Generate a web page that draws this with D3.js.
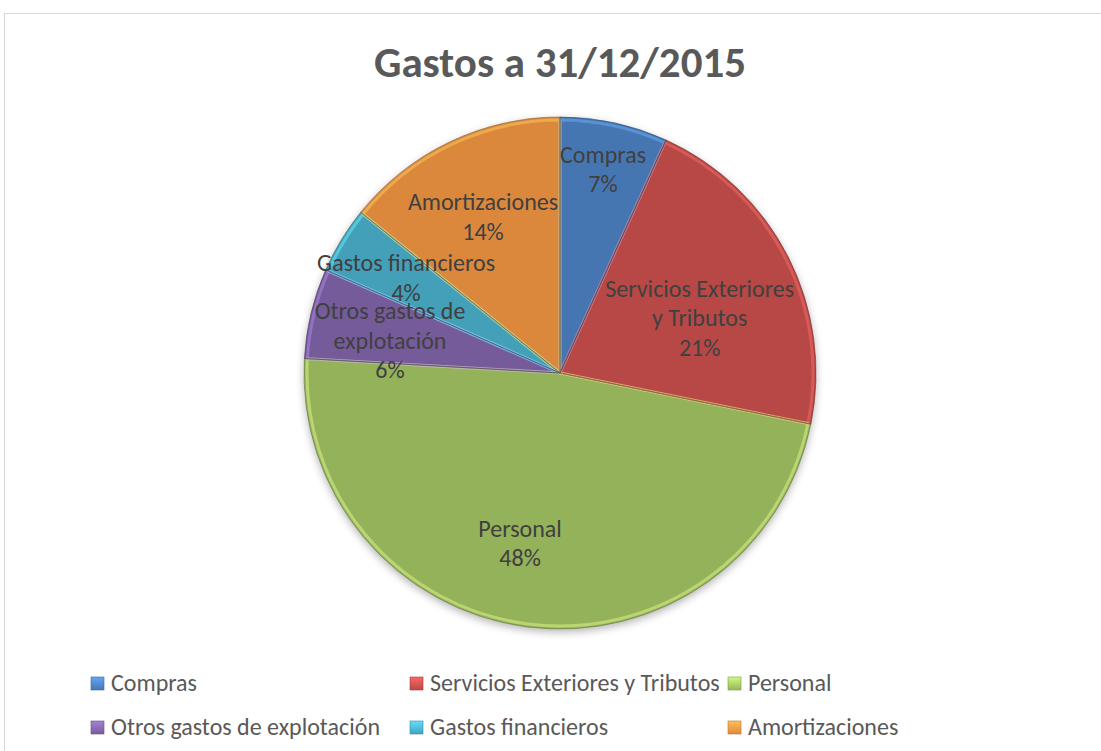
<!DOCTYPE html>
<html>
<head>
<meta charset="utf-8">
<script src="https://cdn.jsdelivr.net/npm/d3@7"></script>
<style>
  body { margin: 0; background: #fff; }
</style>
</head>
<body>
<svg id="svg"></svg>
<script>
// datos del gráfico
const categories = ['Compras', 'Servicios Exteriores y Tributos', 'Personal', 'Otros gastos de explotación', 'Gastos financieros', 'Amortizaciones']
const values = [6.8, 21.4, 47.7, 5.7, 4.2, 14.2]
const labelLines = [['Compras'], ['Servicios Exteriores', 'y Tributos'], ['Personal'], ['Otros gastos de', 'explotación'], ['Gastos financieros'], ['Amortizaciones']]
const colors = ['#4f86c8', '#cf524f', '#a8ca66', '#8567ae', '#4db4d0', '#f89a45']

const width = 1101
const height = 751
const cx = 560
const cy = 373
const radius = 256
const font = 'Carlito, Calibri, Lato, sans-serif'

const svg = d3.select('#svg').attr('width', width).attr('height', height)

// borde del área del gráfico
svg.append('rect')
    .attr('x', 4.5).attr('y', 13.5)
    .attr('width', width + 20).attr('height', height + 20)
    .attr('fill', '#fff').attr('stroke', '#d9d9d9')

// título
svg.append('text')
    .text('Gastos a 31/12/2015')
    .attr('x', cx).attr('y', 77)
    .attr('text-anchor', 'middle')
    .attr('font-family', font)
    .attr('font-weight', 'bold')
    .attr('font-size', 43)
    .attr('fill', '#595959')

const defs = svg.append('defs')

// sombra (círculo difuminado debajo)
defs.append('filter').attr('id', 'blur')
    .attr('x', '-10%').attr('y', '-10%').attr('width', '120%').attr('height', '125%')
    .append('feGaussianBlur').attr('stdDeviation', 4)

// degradados
colors.forEach((c, i) => {
    const g = defs.append('radialGradient')
        .attr('id', `grad${i}`)
        .attr('gradientUnits', 'userSpaceOnUse')
        .attr('cx', cx).attr('cy', cy).attr('r', radius)
    g.append('stop').attr('offset', '0%').attr('stop-color', d3.color(c).brighter(0.1))
    g.append('stop').attr('offset', '92%').attr('stop-color', c)
    g.append('stop').attr('offset', '100%').attr('stop-color', d3.color(c).darker(0.35))

    const m = defs.append('linearGradient')
        .attr('id', `mark${i}`)
        .attr('x1', 0).attr('y1', 0).attr('x2', 0).attr('y2', 1)
    m.append('stop').attr('offset', '0%').attr('stop-color', d3.color(c).brighter(0.6))
    m.append('stop').attr('offset', '100%').attr('stop-color', d3.color(c).darker(0.3))
})

const pie = d3.pie().value(d => d).sort(null)
const arcs = pie(values)
const total = d3.sum(values)

const arc = d3.arc().innerRadius(0).outerRadius(radius)
const innerArc = d3.arc().innerRadius(0).outerRadius(radius - 3)

const g = svg.append('g').attr('transform', `translate(${cx},${cy})`)

g.append('circle')
    .attr('cx', 0).attr('cy', 3).attr('r', radius)
    .attr('fill', '#000').attr('opacity', 0.3)
    .attr('filter', 'url(#blur)')

g.selectAll('path.slice')
    .data(arcs)
    .enter().append('path')
    .attr('class', 'slice')
    .attr('d', arc)
    .attr('fill', (d, i) => `url(#grad${i})`)

// bisel: brillo interior en los bordes
g.selectAll('path.shine')
    .data(arcs)
    .enter().append('path')
    .attr('class', 'shine')
    .attr('d', innerArc)
    .attr('fill', 'none')
    .attr('stroke', (d, i) => d3.color(colors[i]).brighter(0.9))
    .attr('stroke-width', 3)
    .attr('stroke-opacity', 0.45)
    .attr('stroke-linejoin', 'round')

g.selectAll('path.edge')
    .data(arcs)
    .enter().append('path')
    .attr('class', 'edge')
    .attr('d', arc)
    .attr('fill', 'none')
    .attr('stroke', (d, i) => d3.color(colors[i]).darker(1.5))
    .attr('stroke-width', 0.8)
    .attr('stroke-opacity', 0.75)

// etiquetas
const labelRadius = [208, 150, 175, 173, 181, 174]
const labelShift = [-0.3, 5.6, 5.8, -2.8, 0.4, -0.7]
const lineHeight = 29.5

arcs.forEach((d, i) => {
    const a = (d.startAngle + d.endAngle) / 2 + labelShift[i] * Math.PI / 180
    const x = Math.sin(a) * labelRadius[i]
    const y = -Math.cos(a) * labelRadius[i]
    const lines = labelLines[i].concat([d3.format('.0%')(d.data / total)])
    const t = g.append('text')
        .attr('text-anchor', 'middle')
        .attr('font-family', font)
        .attr('font-size', 24)
        .attr('fill', '#404040')
    lines.forEach((ln, k) => {
        t.append('tspan')
            .text(ln)
            .attr('x', x)
            .attr('y', y + (k - (lines.length - 1) / 2) * lineHeight + 8)
    })
})

// leyenda
const legendCols = [91, 410, 728]
const legendRows = [683, 727]
const legend = svg.append('g')
categories.forEach((c, i) => {
    const lx = legendCols[i % 3]
    const ly = legendRows[Math.floor(i / 3)]
    legend.append('rect')
        .attr('x', lx).attr('y', ly - 6)
        .attr('width', 13).attr('height', 13)
        .attr('fill', `url(#mark${i})`)
        .attr('stroke', d3.color(colors[i]).darker(0.8))
        .attr('stroke-width', 0.6)
    legend.append('text')
        .text(c)
        .attr('x', lx + 20).attr('y', ly + 8)
        .attr('font-family', font)
        .attr('font-size', 24)
        .attr('fill', '#595959')
})
</script>
</body>
</html>
